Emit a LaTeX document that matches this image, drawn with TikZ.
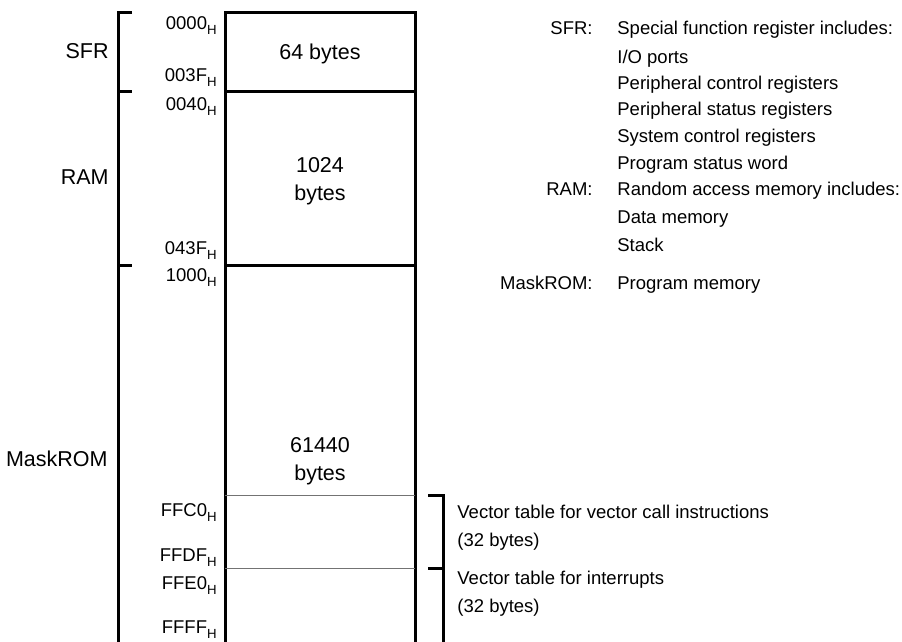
\documentclass[tikz,border=0pt]{standalone}
\usepackage{fontspec}
\setmainfont{Liberation Sans}
\def\hex#1{#1\raisebox{-2.3pt}{\fontsize{6.6}{7}\selectfont H}}
\tikzset{
	heavy/.style={line width=1.5pt},
	light/.style={line width=0.5pt, color=black!55},
	bigtxt/.style={inner sep=0pt, font=\fontsize{10.75}{12}\selectfont},
	smalltxt/.style={inner sep=0pt, font=\fontsize{9.25}{11}\selectfont},
}
\begin{document}
\begin{tikzpicture}[x=0.5pt, y=-0.5pt]
			%%%%% START %%%%%
			\useasboundingbox (0, 0) rectangle (902, 642);
			
			% left bracket
			\draw[heavy] (132, 13) -- (118, 13) -- (118, 642);
			\draw[heavy] (118, 92) -- (132, 92);
			\draw[heavy] (118, 266) -- (132, 266);
			
			% memory column
			\draw[heavy] (225, 642) -- (225, 13) -- (415, 13) -- (415, 642);
			\draw[heavy] (225, 92) -- (415, 92);
			\draw[heavy] (225, 266) -- (415, 266);
			\draw[light] (225, 496) -- (415, 496);
			\draw[light] (225, 569) -- (415, 569);
			
			% right bracket
			\draw[heavy] (428, 496) -- (443, 496) -- (443, 642);
			\draw[heavy] (428, 569) -- (443, 569);
			
			% area names
			\node[bigtxt, anchor=base east] (sfrname) at (109, 58.7) {SFR};
			\node[bigtxt, anchor=base east] (ramname) at (109, 184.7) {RAM};
			\node[bigtxt, anchor=base east] (romname) at (108, 466.7) {MaskROM};
			
			% addresses
			\node[smalltxt, anchor=base east] (a0000) at (217, 29.6) {\hex{0000}};
			\node[smalltxt, anchor=base east] (a003F) at (217, 81.6) {\hex{003F}};
			\node[smalltxt, anchor=base east] (a0040) at (217, 110.6) {\hex{0040}};
			\node[smalltxt, anchor=base east] (a043F) at (217, 254.6) {\hex{043F}};
			\node[smalltxt, anchor=base east] (a1000) at (217, 281.6) {\hex{1000}};
			\node[smalltxt, anchor=base east] (aFFC0) at (217, 516.6) {\hex{FFC0}};
			\node[smalltxt, anchor=base east] (aFFDF) at (217, 561.6) {\hex{FFDF}};
			\node[smalltxt, anchor=base east] (aFFE0) at (217, 589.6) {\hex{FFE0}};
			\node[smalltxt, anchor=base east] (aFFFF) at (217, 633.6) {\hex{FFFF}};
			
			% sizes
			\node[bigtxt, anchor=base] (sfrsize) at (320, 59.7) {64 bytes};
			\node[bigtxt, anchor=base] (ramsize) at (320, 172.7) {1024};
			\node[bigtxt, anchor=base] (ramunit) at (320, 200.7) {bytes};
			\node[bigtxt, anchor=base] (romsize) at (320, 452.7) {61440};
			\node[bigtxt, anchor=base] (romunit) at (320, 480.7) {bytes};
			
			% legend
			\node[smalltxt, anchor=base east] (sfrkey) at (593, 35) {SFR:};
			\node[smalltxt, anchor=base west] (sfrl1) at (617, 35) {Special function register includes:};
			\node[smalltxt, anchor=base west] (sfrl2) at (617, 63.6) {I/O ports};
			\node[smalltxt, anchor=base west] (sfrl3) at (617, 89.6) {Peripheral control registers};
			\node[smalltxt, anchor=base west] (sfrl4) at (617, 116) {Peripheral status registers};
			\node[smalltxt, anchor=base west] (sfrl5) at (617, 142.6) {System control registers};
			\node[smalltxt, anchor=base west] (sfrl6) at (617, 169.6) {Program status word};
			\node[smalltxt, anchor=base east] (ramkey) at (593, 195.6) {RAM:};
			\node[smalltxt, anchor=base west] (raml1) at (617, 195.6) {Random access memory includes:};
			\node[smalltxt, anchor=base west] (raml2) at (617, 223.6) {Data memory};
			\node[smalltxt, anchor=base west] (raml3) at (617, 251.6) {Stack};
			\node[smalltxt, anchor=base east] (romkey) at (593, 289.6) {MaskROM:};
			\node[smalltxt, anchor=base west] (roml1) at (617, 289.6) {Program memory};
			
			% vector tables
			\node[smalltxt, anchor=base west] (vcall) at (457, 518.6) {Vector table for vector call instructions};
			\node[smalltxt, anchor=base west] (vcallsz) at (457, 547) {(32 bytes)};
			\node[smalltxt, anchor=base west] (vint) at (457, 585) {Vector table for interrupts};
			\node[smalltxt, anchor=base west] (vintsz) at (457, 613) {(32 bytes)};
			
			%%%%% END %%%%%
\end{tikzpicture}
\end{document}
